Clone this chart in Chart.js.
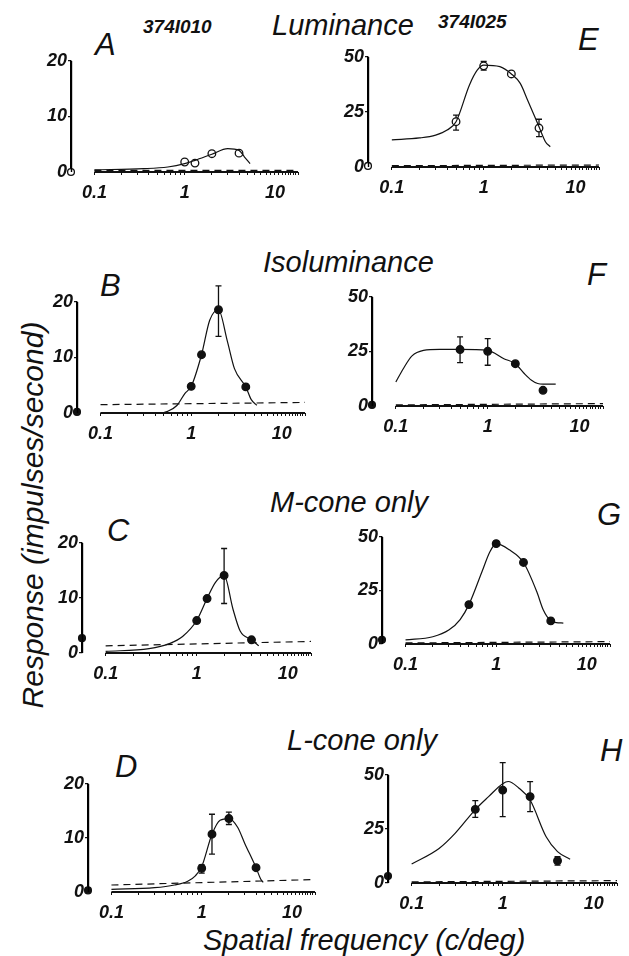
<!DOCTYPE html>
<html>
<head>
<meta charset="utf-8">
<script src="https://cdn.jsdelivr.net/npm/chart.js@4.4.0/dist/chart.umd.min.js"></script>
<style>
  body { margin: 0; background: #fff; width: 629px; height: 956px; position: relative; overflow: hidden;
         font-family: "Liberation Sans", Arial, sans-serif; color: #111; }
  canvas { position: absolute; }
  .t { position: absolute; font-style: italic; line-height: 1; white-space: nowrap; }
  .cell { font-size: 19px; font-weight: bold; }
  .cond { font-size: 29px; }
  .let { font-size: 31px; }
</style>
</head>
<body>

<div class="t cell" style="left:143px; top:17px;">374I010</div>
<div class="t cell" style="left:438px; top:12px;">374I025</div>
<div class="t cond" style="left:272px; top:11px;">Luminance</div>
<div class="t cond" style="left:263px; top:248px;">Isoluminance</div>
<div class="t cond" style="left:270px; top:488px;">M-cone only</div>
<div class="t cond" style="left:287px; top:726px;">L-cone only</div>
<div class="t cond" style="left:203px; top:926px;">Spatial frequency (c/deg)</div>
<div class="t cond" style="left:-167px; top:500px; width:400px; text-align:center; font-size:30px; transform:rotate(-90deg);">Response (impulses/second)</div>

<div class="t let" style="left:95px; top:29px;">A</div>
<div class="t let" style="left:100px; top:270px;">B</div>
<div class="t let" style="left:107px; top:515px;">C</div>
<div class="t let" style="left:115px; top:751px;">D</div>
<div class="t let" style="left:578px; top:24px;">E</div>
<div class="t let" style="left:587px; top:259px;">F</div>
<div class="t let" style="left:597px; top:499px;">G</div>
<div class="t let" style="left:600px; top:735px;">H</div>

<script>
// Spatial frequency axis (c/deg)
const X_MIN = 0.055;
const X_MAX = 18;
const xTickVals = [0.1, 0.2, 0.3, 0.4, 0.5, 0.6, 0.7, 0.8, 0.9,
                   1, 2, 3, 4, 5, 6, 7, 8, 9, 10, 11, 12, 13, 14, 15, 16, 17, 18];
const xTickLabels = { 0.1: '0.1', 1: '1', 10: '10' };

// Panel A, luminance, cell 374I010
const aFreq = [1, 1.3, 2, 4];
const aResp = [1.8, 1.6, 3.3, 3.4];
const aFitX = [0.1, 0.35, 0.65, 1, 1.3, 2, 3, 4, 4.6, 5.3];
const aFitY = [0.4, 0.6, 0.9, 1.5, 2.1, 3.2, 4.2, 3.9, 2.7, 1.5];

// Panel B, isoluminance, cell 374I010
const bFreq = [1, 1.3, 2, 4];
const bResp = [4.8, 10.5, 18.6, 4.7];
const bErrLo = [null, null, 13.8, null];
const bErrHi = [null, null, 22.9, null];
const bFitX = [0.1, 0.45, 0.55, 0.7, 0.85, 1, 1.3, 1.6, 2, 2.5, 3, 4, 4.6, 5.3];
const bFitY = [0, 0, 0.3, 1.4, 3.5, 4.8, 10.5, 16.7, 18.6, 13, 8, 4.7, 2.4, 1.4];

// Panel C, M-cone only, cell 374I010
const cFreq = [1, 1.3, 2, 4];
const cResp = [5.9, 9.9, 14.1, 2.4];
const cErrLo = [null, null, 9, null];
const cErrHi = [null, null, 19, null];
const cFitX = [0.1, 0.3, 0.5, 0.7, 1, 1.3, 1.6, 2, 2.5, 3, 4, 4.8];
const cFitY = [0.3, 0.8, 1.7, 3, 5.9, 9.9, 12.8, 14.1, 8, 4, 2.4, 1.3];

// Panel D, L-cone only, cell 374I010
const dFreq = [1, 1.3, 2, 4];
const dResp = [4.4, 10.7, 13.6, 4.5];
const dErrLo = [3.5, 7, 12.5, null];
const dErrHi = [5, 14.4, 14.8, null];
const dFitX = [0.1, 0.3, 0.5, 0.7, 0.85, 1, 1.3, 1.6, 2, 2.5, 3, 4, 4.5, 4.8];
const dFitY = [0.5, 0.8, 1.3, 2, 3, 4.7, 10.7, 13.3, 13.6, 12, 9, 4.5, 2.4, 1.8];

// Panel E, luminance, cell 374I025
const eFreq = [0.5, 1, 2, 4];
const eResp = [20.6, 46, 42.3, 17.7];
const eErrLo = [16.8, 44, null, 13.8];
const eErrHi = [23.6, 48, null, 21.7];
const eFitX = [0.1, 0.2, 0.3, 0.4, 0.5, 0.7, 0.85, 1, 1.5, 2, 2.5, 3, 4, 4.7, 5.3];
const eFitY = [12.3, 13.2, 14.5, 16.8, 20.6, 37.3, 44, 46.3, 45.6, 42.3, 38, 30.5, 18.3, 11.5, 9.2];

// Panel F, isoluminance, cell 374I025
const fFreq = [0.5, 1, 2, 4];
const fResp = [25.9, 25.1, 19.4, 7.2];
const fErrLo = [19.9, 18.7, null, null];
const fErrHi = [31.7, 30.9, null, null];
const fFitX = [0.1, 0.12, 0.15, 0.2, 0.3, 0.5, 1, 1.5, 2, 2.5, 3, 3.5, 4, 5.5];
const fFitY = [11, 17, 23, 25.5, 26, 26, 25.5, 21.7, 19.4, 14.9, 11.8, 10.3, 10, 10];

// Panel G, M-cone only, cell 374I025
const gFreq = [0.5, 1, 2, 4];
const gResp = [18.4, 46.9, 38.1, 10.8];
const gFitX = [0.1, 0.2, 0.3, 0.4, 0.5, 0.7, 0.85, 1, 1.4, 2, 2.8, 3.3, 4, 4.6, 5.5];
const gFitY = [1.9, 3.4, 6.5, 11.4, 18.4, 34, 43, 46.9, 44, 38.1, 24.5, 16, 10.8, 10, 9.8];

// Panel H, L-cone only, cell 374I025
const hFreq = [0.5, 1, 2, 4];
const hResp = [34.1, 43, 40, 10.3];
const hErrLo = [30.4, 30.7, 33, 8.3];
const hErrHi = [38.1, 55.7, 46.9, 12.2];
const hFitX = [0.1, 0.2, 0.3, 0.5, 0.7, 1, 1.15, 1.5, 2, 3, 4, 5.5];
const hFitY = [8.8, 16, 23, 34, 40, 46, 47, 44, 38.4, 21.4, 14.5, 11];

// Spontaneous rate and dashed baseline (start, end), panels A..H
const spontRates = [0, 0.2, 2.7, 0.3, 0.5, 0.5, 2, 3.2];
const baseStart = [0.3, 1.5, 1.3, 1.3, 0.6, 0.5, 0.5, 0.5];
const baseEnd   = [0.3, 1.9, 2.1, 2.3, 0.9, 1.1, 1.1, 1.1];

// Plot-area boxes on the page: left, right, top, bottom (px)
const boxes = [
  [71, 298, 61, 172], [77, 305, 302, 413], [82, 311, 543, 653], [88, 315, 784, 892],
  [368, 599, 57, 167], [372, 603, 297, 406], [382, 610, 537, 644], [388, 617, 775, 883]
];

const panels = [
  { freq: aFreq, resp: aResp, lo: null,   hi: null,   fitX: aFitX, fitY: aFitY, yMax: 20, open: true },
  { freq: bFreq, resp: bResp, lo: bErrLo, hi: bErrHi, fitX: bFitX, fitY: bFitY, yMax: 20 },
  { freq: cFreq, resp: cResp, lo: cErrLo, hi: cErrHi, fitX: cFitX, fitY: cFitY, yMax: 20 },
  { freq: dFreq, resp: dResp, lo: dErrLo, hi: dErrHi, fitX: dFitX, fitY: dFitY, yMax: 20 },
  { freq: eFreq, resp: eResp, lo: eErrLo, hi: eErrHi, fitX: eFitX, fitY: eFitY, yMax: 50, open: true },
  { freq: fFreq, resp: fResp, lo: fErrLo, hi: fErrHi, fitX: fFitX, fitY: fFitY, yMax: 50 },
  { freq: gFreq, resp: gResp, lo: null,   hi: null,   fitX: gFitX, fitY: gFitY, yMax: 50 },
  { freq: hFreq, resp: hResp, lo: hErrLo, hi: hErrHi, fitX: hFitX, fitY: hFitY, yMax: 50 }
];

const INK = '#111';
const PAD_L = 50, PAD_R = 20, PAD_T = 20, PAD_B = 35;
const tickFont = { family: 'Liberation Sans', size: 18, style: 'italic', weight: 'bold' };

// Draws vertical error bars with small caps under the markers.
const errorBars = {
  id: 'errorBars',
  beforeDatasetsDraw(chart) {
    const ctx = chart.ctx, xs = chart.scales.x, ys = chart.scales.y;
    chart.data.datasets.forEach((ds) => {
      if (!ds.errLo) return;
      ctx.save();
      ctx.strokeStyle = INK;
      ctx.lineWidth = 1.3;
      ds.data.forEach((pt, i) => {
        const lo = ds.errLo[i], hi = ds.errHi[i];
        if (lo == null) return;
        const x = xs.getPixelForValue(pt.x);
        const y1 = ys.getPixelForValue(lo), y2 = ys.getPixelForValue(hi);
        ctx.beginPath();
        ctx.moveTo(x, y1); ctx.lineTo(x, y2);
        ctx.moveTo(x - 3, y1); ctx.lineTo(x + 3, y1);
        ctx.moveTo(x - 3, y2); ctx.lineTo(x + 3, y2);
        ctx.stroke();
      });
      ctx.restore();
    });
  }
};

// Ordinate line, drawn on top so it is never lost under the markers.
const yAxisLine = {
  id: 'yAxisLine',
  afterDatasetsDraw(chart) {
    const ctx = chart.ctx, ys = chart.scales.y;
    const x = Math.round(chart.chartArea.left) + 0.5;
    ctx.save();
    ctx.strokeStyle = '#000';
    ctx.lineWidth = 1.4;
    ctx.beginPath();
    ctx.moveTo(x, ys.getPixelForValue(ys.max));
    ctx.lineTo(x, ys.getPixelForValue(ys.min));
    ctx.stroke();
    ctx.restore();
  }
};

function makePanel(p, i) {
  const [l, r, t, b] = boxes[i];
  const canvas = document.createElement('canvas');
  canvas.width = (r - l) + PAD_L + PAD_R;
  canvas.height = (b - t) + PAD_T + PAD_B;
  canvas.style.left = (l - PAD_L) + 'px';
  canvas.style.top = (t - PAD_T) + 'px';
  document.body.appendChild(canvas);

  const markerFill = p.open ? '#fff' : INK;

  new Chart(canvas, {
    type: 'line',
    data: {
      datasets: [
        { // x axis line, starting at 0.1
          data: [{ x: 0.1, y: 0 }, { x: X_MAX, y: 0 }],
          borderColor: INK, borderWidth: 2, pointRadius: 0, clip: false
        },
        { // spontaneous-rate baseline
          data: [{ x: 0.1, y: baseStart[i] }, { x: X_MAX, y: baseEnd[i] }],
          borderColor: INK, borderWidth: 1.2, borderDash: [7, 5], pointRadius: 0, clip: false
        },
        { // fitted curve
          data: p.fitX.map((x, k) => ({ x, y: p.fitY[k] })),
          borderColor: INK, borderWidth: 1.2, pointRadius: 0,
          cubicInterpolationMode: 'monotone', clip: false
        },
        { // measured responses
          data: p.freq.map((x, k) => ({ x, y: p.resp[k] })),
          errLo: p.lo, errHi: p.hi,
          showLine: false, pointRadius: 3.8, pointBorderWidth: 1.3,
          pointBackgroundColor: markerFill, pointBorderColor: INK, clip: false
        },
        { // spontaneous rate, on the ordinate
          data: [{ x: X_MIN, y: spontRates[i] }],
          showLine: false, pointRadius: 3.4, pointBorderWidth: 1.3,
          pointBackgroundColor: markerFill, pointBorderColor: INK, clip: false
        }
      ]
    },
    options: {
      responsive: false,
      animation: false,
      events: [],
      layout: { padding: { top: PAD_T, right: PAD_R, left: 0, bottom: 0 } },
      plugins: { legend: { display: false }, tooltip: { enabled: false } },
      scales: {
        x: {
          type: 'logarithmic', min: X_MIN, max: X_MAX,
          border: { display: false },
          grid: { drawOnChartArea: false, tickLength: 3, color: INK, lineWidth: 1 },
          afterBuildTicks: (s) => { s.ticks = xTickVals.map((v) => ({ value: v })); },
          afterFit: (s) => { s.height = PAD_B; },
          ticks: {
            autoSkip: false, maxRotation: 0, minRotation: 0, padding: 7,
            color: INK, font: tickFont,
            callback: (v) => xTickLabels[v] || ''
          }
        },
        y: {
          type: 'linear', min: 0, max: p.yMax,
          border: { display: true, color: '#000', width: 1.4 },
          grid: { drawOnChartArea: false, tickLength: 3, color: INK, lineWidth: 1.2 },
          afterFit: (s) => { s.width = PAD_L; },
          ticks: { stepSize: p.yMax / 2, padding: 1, color: INK, font: tickFont }
        }
      }
    },
    plugins: [errorBars, yAxisLine]
  });
}

panels.forEach(makePanel);
</script>
</body>
</html>
